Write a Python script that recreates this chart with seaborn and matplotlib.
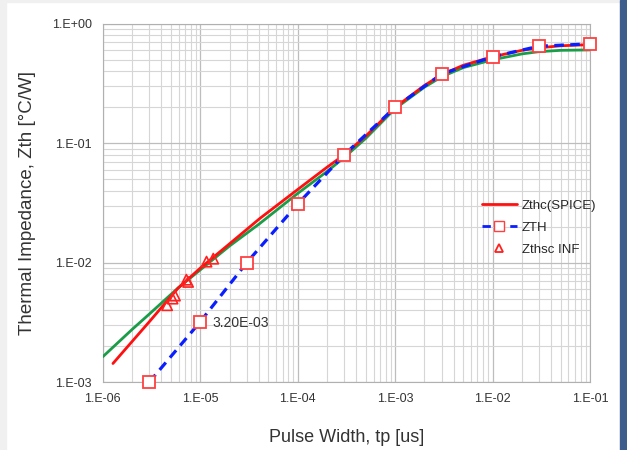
import numpy as np
import pandas as pd
import seaborn as sns
import matplotlib.pyplot as plt
from matplotlib.lines import Line2D
from matplotlib.patches import Rectangle
from matplotlib.ticker import FixedLocator, FixedFormatter, LogLocator, NullFormatter

# Zthc(SPICE) curve (red)
spice_tp = [1.27e-6, 2e-6, 3e-6, 5.9e-6, 1e-5, 2e-5, 4.1e-5, 1e-4, 2e-4, 3e-4, 5e-4,
            1e-3, 2e-3, 3e-3, 5e-3, 1e-2, 2e-2, 3e-2, 5e-2, 1e-1]
spice_zth = [1.43e-3, 2.19e-3, 3.2e-3, 6.1e-3, 9.0e-3, 1.44e-2, 2.35e-2, 4.1e-2, 6.3e-2, 8.0e-2, 0.115,
             0.20, 0.305, 0.375, 0.45, 0.53, 0.60, 0.63, 0.655, 0.67]

# fitted curve (green, no legend entry)
fit_tp = [1e-6, 2e-6, 3e-6, 6e-6, 1e-5, 2e-5, 4e-5, 1e-4, 2e-4, 3e-4, 5e-4,
          1e-3, 2e-3, 3e-3, 5e-3, 1e-2, 2e-2, 3e-2, 5e-2, 1e-1]
fit_zth = [1.63e-3, 2.76e-3, 3.71e-3, 6.2e-3, 8.7e-3, 1.38e-2, 2.1e-2, 3.8e-2, 5.8e-2, 7.6e-2, 0.11,
           0.195, 0.295, 0.36, 0.43, 0.50, 0.56, 0.585, 0.60, 0.605]

# ZTH datasheet points (blue dashed, square markers)
zth_tp = [3e-6, 1e-5, 3e-5, 1e-4, 3e-4, 1e-3, 3e-3, 1e-2, 3e-2, 1e-1]
zth_val = [1e-3, 3.2e-3, 1e-2, 3.1e-2, 8e-2, 0.2, 0.38, 0.53, 0.65, 0.68]

# Zthsc INF points (triangles)
inf_tp = [4.57e-6, 5.2e-6, 5.5e-6, 7.2e-6, 7.5e-6, 1.16e-5, 1.36e-5]
inf_zth = [4.4e-3, 5.0e-3, 5.3e-3, 7.2e-3, 6.9e-3, 1.02e-2, 1.08e-2]

x_ticks = [1e-6, 1e-5, 1e-4, 1e-3, 1e-2, 1e-1]
x_labels = ["1.E-06", "1.E-05", "1.E-04", "1.E-03", "1.E-02", "1.E-01"]
y_ticks = [1e-3, 1e-2, 1e-1, 1e0]
y_labels = ["1.E-03", "1.E-02", "1.E-01", "1.E+00"]

sns.set_style("white")
plt.rcParams['font.family'] = ['Liberation Sans', 'DejaVu Sans']

fig = plt.figure(figsize=(6.27, 4.5), dpi=100)
fig.patch.set_facecolor("white")
# window border strips
fig.patches.append(Rectangle((0, 0), 0.009, 1, transform=fig.transFigure, color="#f0f0f0", zorder=-5))
fig.patches.append(Rectangle((0, 0.995), 1, 0.005, transform=fig.transFigure, color="#f0f0f0", zorder=-5))
fig.patches.append(Rectangle((0.989, 0), 0.011, 1, transform=fig.transFigure, color="#3d5d8d", zorder=-5))

ax = fig.add_axes([0.164, 0.151, 0.777, 0.796])
ax.set_xscale("log")
ax.set_yscale("log")

sns.lineplot(x=fit_tp, y=fit_zth, ax=ax, color="#1a9c48", linewidth=2, sort=False, zorder=3)
sns.lineplot(x=zth_tp, y=zth_val, ax=ax, color="#0a1eff", linewidth=2.3, linestyle=(0, (3, 2)),
             sort=False, zorder=5)
sns.lineplot(x=spice_tp, y=spice_zth, ax=ax, color="#ff1010", linewidth=2, sort=False, zorder=4)
sns.scatterplot(x=inf_tp, y=inf_zth, ax=ax, marker="^", s=55, facecolors="none",
                edgecolor="#ff2020", linewidth=1.2, zorder=6, clip_on=False)

# square markers above the red curve
ax.plot(zth_tp, zth_val, linestyle="none", marker="s", markersize=9, markerfacecolor="white",
        markeredgecolor="#ff4040", markeredgewidth=1.3, zorder=7, clip_on=False)

ax.annotate("3.20E-03", xy=(zth_tp[1], zth_val[1]), xytext=(9, -1), textcoords="offset points",
            ha="left", va="center", fontsize=10, color="#333333")

ax.set_xlim(1e-6, 1e-1)
ax.set_ylim(1e-3, 1e0)
ax.xaxis.set_major_locator(FixedLocator(x_ticks))
ax.xaxis.set_major_formatter(FixedFormatter(x_labels))
ax.yaxis.set_major_locator(FixedLocator(y_ticks))
ax.yaxis.set_major_formatter(FixedFormatter(y_labels))
for axis in (ax.xaxis, ax.yaxis):
    axis.set_minor_locator(LogLocator(base=10, subs=np.arange(2, 10)))
    axis.set_minor_formatter(NullFormatter())

ax.grid(which="major", color="#bdbdbd", linewidth=0.9)
ax.grid(which="minor", color="#d6d6d6", linewidth=0.8)
ax.set_axisbelow(True)
for sp in ax.spines.values():
    sp.set_color("#b0b0b0")
ax.tick_params(axis="both", which="major", length=4, color="#b0b0b0", labelsize=9,
               labelcolor="#333333", pad=4)
ax.tick_params(axis="both", which="minor", length=0)

ax.set_xlabel("Pulse Width, tp [us]", fontsize=13, color="#333333", labelpad=17)
ax.set_ylabel("Thermal Impedance, Zth [\u00b0C/W]", fontsize=13.5, color="#333333", labelpad=11)

handles = [
    Line2D([], [], color="#ff1010", linewidth=2),
    Line2D([], [], color="#0a1eff", linewidth=2, linestyle=(0, (3, 2)), marker="s", markersize=7,
           markerfacecolor="white", markeredgecolor="#ff4040"),
    Line2D([], [], linestyle="none", marker="^", markersize=6, markerfacecolor="none",
           markeredgecolor="#ff2020", markeredgewidth=1.3),
]
ax.legend(handles, ["Zthc(SPICE)", "ZTH", "Zthsc INF"], loc="upper left", bbox_to_anchor=(0.768, 0.525),
          frameon=False, fontsize=9.5, handlelength=2.6, handletextpad=0.4, labelspacing=0.75,
          borderaxespad=0)

fig.savefig("out.png", dpi=100)
